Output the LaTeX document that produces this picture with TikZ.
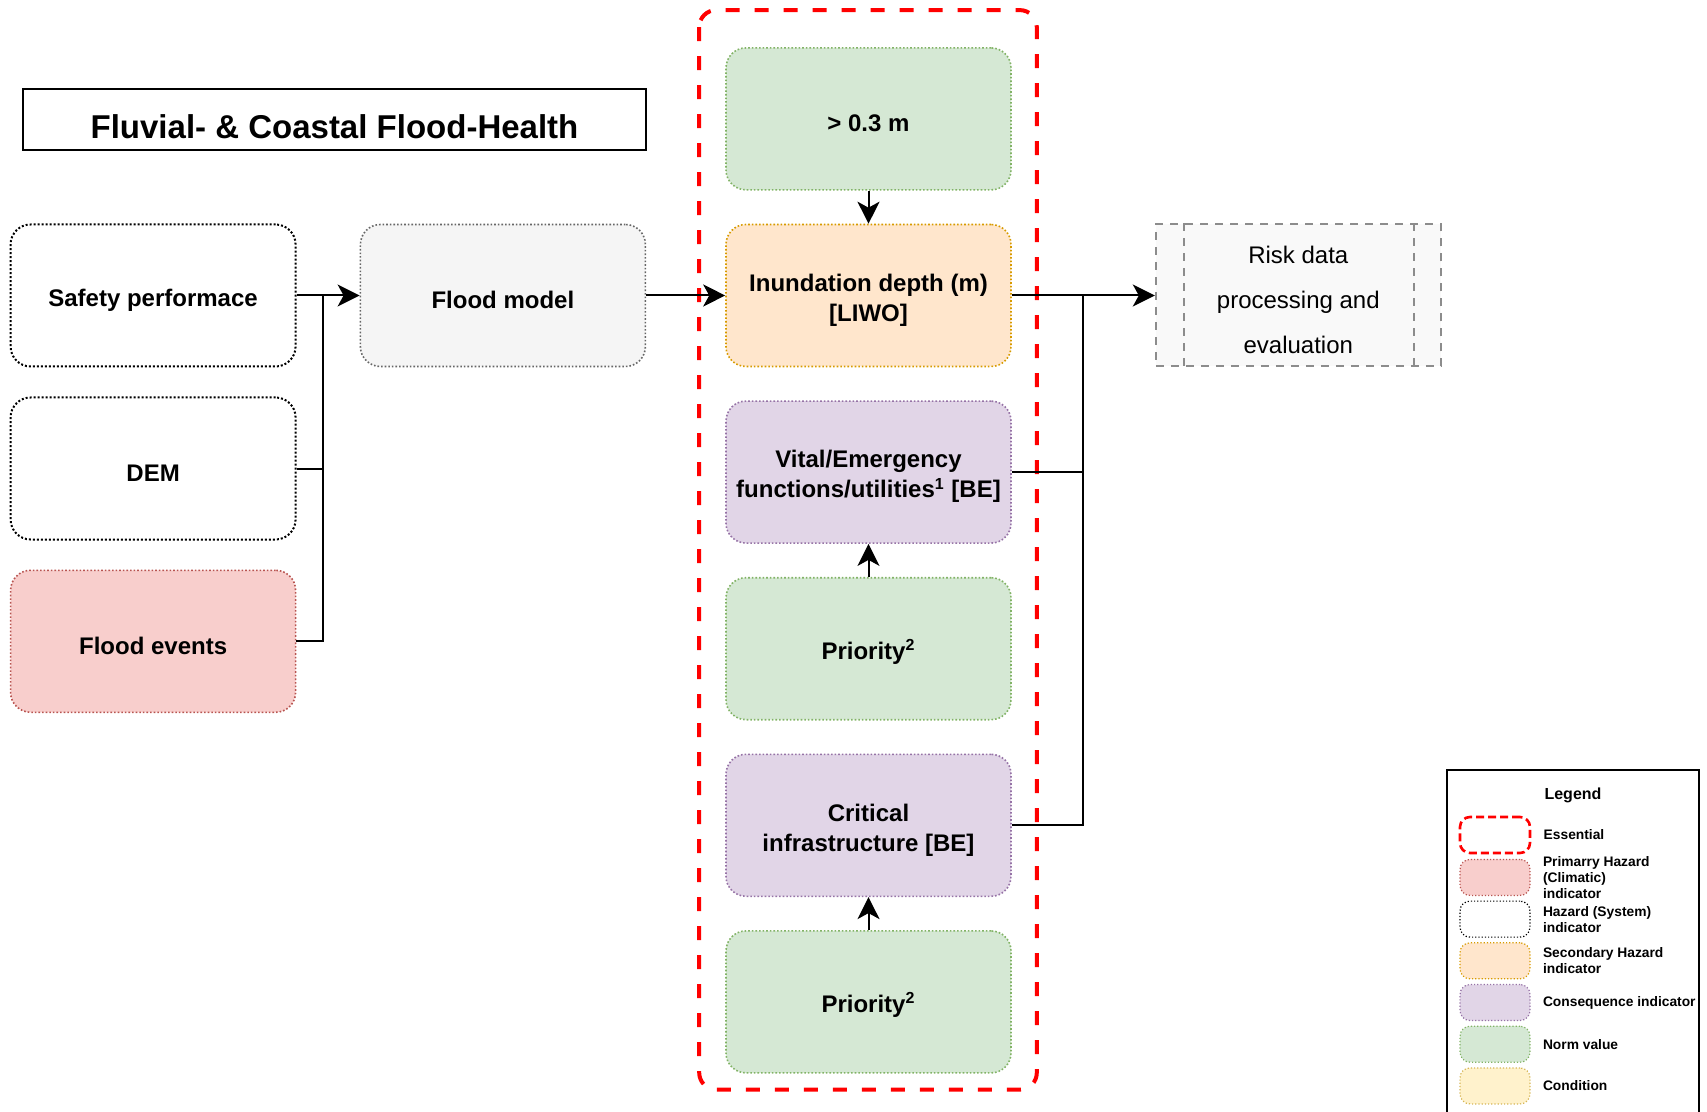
\documentclass[tikz,border=0pt]{standalone}
\usepackage{fontspec}
\setmainfont{Liberation Sans}
\usepackage{tikz}
\usetikzlibrary{shapes,arrows.meta,positioning,fit,backgrounds}
\definecolor{normfill}{RGB}{213, 232, 212}
\definecolor{normline}{RGB}{130, 179, 102}
\definecolor{secfill}{RGB}{255, 230, 204}
\definecolor{secline}{RGB}{215, 155, 0}
\definecolor{consfill}{RGB}{225, 213, 231}
\definecolor{consline}{RGB}{150, 115, 166}
\definecolor{primfill}{RGB}{248, 206, 204}
\definecolor{primline}{RGB}{184, 84, 80}
\definecolor{condfill}{RGB}{255, 242, 204}
\definecolor{condline}{RGB}{214, 182, 86}
\definecolor{modelfill}{RGB}{245, 245, 245}
\definecolor{modelline}{RGB}{102, 102, 102}
\definecolor{riskfill}{RGB}{249, 249, 249}
\definecolor{riskline}{RGB}{140, 140, 140}
\newcommand{\lowtext}{\rule{0pt}{13.2pt}}
\tikzstyle{box} = [rectangle, rounded corners=10pt, densely dotted, line width=0.8pt, minimum width=142.5pt, minimum height=71pt, inner sep=2pt, align=center, text=black, font=\fontsize{12}{15}\selectfont\bfseries]
\tikzstyle{swatch} = [rectangle, rounded corners=5pt, densely dotted, line width=0.6pt, minimum width=35pt, minimum height=18pt, inner sep=0pt]
\tikzstyle{system} = [draw=black, fill=white, line width=1pt]
\tikzstyle{primary} = [draw=primline, fill=primfill]
\tikzstyle{secondary} = [draw=secline, fill=secfill]
\tikzstyle{consequence} = [draw=consline, fill=consfill]
\tikzstyle{norm} = [draw=normline, fill=normfill]
\tikzstyle{condition} = [draw=condline, fill=condfill]
\tikzstyle{model} = [draw=modelline, fill=modelfill]
\tikzstyle{essential} = [draw=red, line width=2pt, dash pattern=on 7pt off 7.5pt, rounded corners=8.5pt]
\tikzstyle{riskbox} = [rectangle, draw=riskline, fill=riskfill, line width=1pt, dash pattern=on 4pt off 3.5pt, minimum width=142.5pt, minimum height=71pt, align=center, font=\fontsize{12}{22.5}\selectfont]
\tikzstyle{titlebox} = [rectangle, draw=black, line width=1pt, minimum width=311.5pt, minimum height=30.5pt, text height=19.5pt, text depth=0pt, font=\fontsize{16.5}{20}\selectfont\bfseries]
\tikzstyle{legtext} = [inner sep=0pt, align=left, font=\fontsize{6.9}{8}\selectfont\bfseries]
\tikzstyle{flow} = [draw, line width=1pt, -{Stealth[length=11pt, width=11pt, inset=3pt]}]
\tikzstyle{link} = [draw, line width=1pt]

\begin{document}
\begin{tikzpicture}[x=0.5pt, y=-0.5pt]
\useasboundingbox (0,0) rectangle (1707,1112);

% title ======================================
\node[titlebox] (title) at (334.5,119.5) {Fluvial- \& Coastal Flood-Health};

% essential column ===========================
\node[box, secondary] (inund) at (868.5,295.5) {\lowtext Inundation depth (m)\\{[LIWO]}};
\node[box, norm, above=16.5pt of inund] (thr) {\lowtext > 0.3 m};
\node[box, consequence, below=16.5pt of inund] (vital) {\lowtext Vital/Emergency\\functions/utilities\textsuperscript{1} [BE]};
\node[box, norm, below=16.5pt of vital] (prio1) {\lowtext Priority\textsuperscript{2}};
\node[box, consequence, below=16.5pt of prio1] (crit) {\lowtext Critical\\infrastructure [BE]};
\node[box, norm, below=16.5pt of crit] (prio2) {\lowtext Priority\textsuperscript{2}};

\draw[essential] ([xshift=-13pt,yshift=18.5pt]thr.north west) rectangle ([xshift=12.5pt,yshift=-8pt]prio2.south east);

% inputs =====================================
\node[box, model, left=39.5pt of inund] (model) {\lowtext Flood model};
\node[box, system, left=31.5pt of model] (safety) {\lowtext Safety performace};
\node[box, system, below=14.5pt of safety] (dem) {\lowtext DEM};
\node[box, primary, below=14.5pt of dem] (events) {\lowtext Flood events};

% output =====================================
\node[riskbox, right=71.5pt of inund] (risk) {\lowtext Risk data\\processing and\\evaluation};
\draw[riskline, line width=1pt, dash pattern=on 4pt off 3.5pt] ([xshift=14.5pt]risk.north west) -- ([xshift=14.5pt]risk.south west);
\draw[riskline, line width=1pt, dash pattern=on 4pt off 3.5pt] ([xshift=-14pt]risk.north east) -- ([xshift=-14pt]risk.south east);

\coordinate (lbus) at ([xshift=13pt]safety.east);
\coordinate (rbus) at ([xshift=35.5pt]inund.east);

% edges
\path[flow] (safety) -- (model);
\draw[link] (events.east) -| (lbus);
\draw[link] (dem.east) -- (dem.east -| lbus);
\path[flow] (model) -- (inund);
\path[flow] (thr) -- (inund);
\path[flow] (prio1) -- (vital);
\path[flow] (prio2) -- (crit);
\path[flow] (inund) -- (risk);
\draw[link] (crit.east) -| (rbus);
\draw[link] (vital.east) -- (vital.east -| rbus);

% legend =====================================
\draw[line width=1pt] (1447,1112) -- (1447,770) -- (1699,770) -- (1699,1112);
\node[font=\fontsize{8}{9.6}\selectfont\bfseries] (legtitle) at (1573,795) {Legend};
\node[swatch, draw=red, line width=1.3pt, dash pattern=on 4pt off 2pt] (legess) at (1495,835) {};
\node[swatch, primary, below=2.25pt of legess] (legprim) {};
\node[swatch, draw=black, fill=white, below=2.25pt of legprim] (legsys) {};
\node[swatch, secondary, below=2.25pt of legsys] (legsec) {};
\node[swatch, consequence, below=2.25pt of legsec] (legcons) {};
\node[swatch, norm, below=2.25pt of legcons] (legnorm) {};
\node[swatch, condition, below=2.25pt of legnorm] (legcond) {};

\node[legtext, right=6pt of legess] {Essential};
\node[legtext, right=6pt of legprim] {Primarry Hazard\\(Climatic)\\indicator};
\node[legtext, right=6pt of legsys] {Hazard (System)\\indicator};
\node[legtext, right=6pt of legsec] {Secondary Hazard\\indicator};
\node[legtext, right=6pt of legcons] {Consequence indicator};
\node[legtext, right=6pt of legnorm] {Norm value};
\node[legtext, right=6pt of legcond] {Condition};

\end{tikzpicture}
\end{document}
